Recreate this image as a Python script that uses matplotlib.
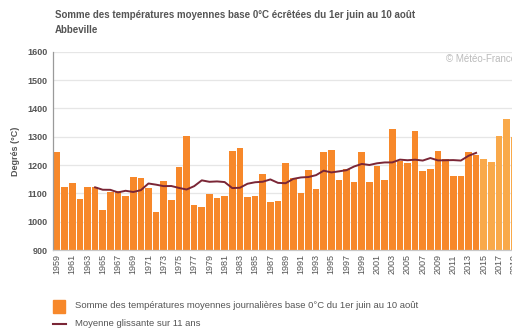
import matplotlib
matplotlib.use("Agg")
import matplotlib.pyplot as plt
import pandas as pd
from matplotlib.patches import Rectangle
from matplotlib.lines import Line2D

plt.rcParams['font.family'] = ['Liberation Sans', 'DejaVu Sans']

years = list(range(1959, 2020))
values = [
    1247, 1123, 1136, 1079, 1123, 1123, 1042, 1105, 1108, 1092,
    1156, 1153, 1120, 1035, 1143, 1076, 1193, 1302, 1059, 1051,
    1097, 1082, 1091, 1250, 1261, 1086, 1091, 1168, 1068, 1072,
    1207, 1155, 1101, 1182, 1116, 1247, 1254, 1147, 1185, 1141,
    1245, 1140, 1196, 1147, 1326, 1214, 1206, 1320, 1180, 1186,
    1249, 1221, 1162, 1162, 1245, 1234, 1220, 1212, 1302, 1364,
    1300,
]
first_recent_year = 2015
y_ticks = [900, 1000, 1100, 1200, 1300, 1400, 1500, 1600]
x_tick_years = list(range(1959, 2020, 2))

title = "Somme des températures moyennes base 0°C écrêtées du 1er juin au 10 août"
subtitle = "Abbeville"
bar_label = "Somme des températures moyennes journalières base 0°C du 1er juin au 10 août"
line_label = "Moyenne glissante sur 11 ans"

series = pd.Series(values, index=years)
rolling = series.rolling(11, center=True).mean()

c_bar = "#F7882A"
c_bar_recent = "#F9A94A"
c_line = "#7A2636"
c_text = "#555555"

W, H = 512, 331
fig = plt.figure(figsize=(W / 100, H / 100), dpi=100)
left_px, right_px = 53.2, 518.0
top_px, bottom_px = 51.7, 250.0
ax = fig.add_axes([left_px / W, 1 - bottom_px / H,
                   (right_px - left_px) / W, (bottom_px - top_px) / H])

colors = [c_bar_recent if y >= first_recent_year else c_bar for y in years]
ax.bar(years, [v - 900 for v in values], bottom=900, width=0.87,
       color=colors, edgecolor="none", zorder=2)
ax.plot(rolling.index, rolling.values, color=c_line, lw=1.4, zorder=3)

ax.set_xlim(1958.5, 2019.5)
ax.set_ylim(900, 1600)
ax.set_yticks(y_ticks)
ax.set_yticklabels([str(t) for t in y_ticks], fontsize=6.5,
                   fontweight="bold", color=c_text)
ax.set_xticks(x_tick_years)
ax.set_xticklabels([str(y) for y in x_tick_years], rotation=90,
                   fontsize=6.5, color=c_text)
ax.tick_params(axis="both", length=0, pad=4)
ax.tick_params(axis="x", pad=3)
ax.grid(axis="y", color="#E6E6E6", lw=0.9, zorder=0)
ax.set_axisbelow(True)
for s in ["top", "right"]:
    ax.spines[s].set_visible(False)
ax.spines["left"].set_color("#9A9A9A")
ax.spines["bottom"].set_color("#C8C8C8")
ax.spines["left"].set_linewidth(0.9)
ax.spines["bottom"].set_linewidth(0.9)

ax.set_ylabel("Degrés (°C)", fontsize=6.5, fontweight="bold", color=c_text)
ax.yaxis.set_label_coords(-(left_px - 20) / (right_px - left_px), 0.5)

fig.text(55 / W, 1 - 15 / H, title, fontsize=7, fontweight="bold",
         color=c_text, va="center", ha="left")
fig.text(55 / W, 1 - 30 / H, subtitle, fontsize=7, fontweight="bold",
         color=c_text, va="center", ha="left")
fig.text(446 / W, 1 - 59 / H, "© Météo-France", fontsize=7,
         color="#BBBBBB", va="center", ha="left")

# legend
fig.patches.append(Rectangle((53 / W, 1 - 313 / H), 12 / W, 13 / H,
                             transform=fig.transFigure, color=c_bar))
fig.text(75 / W, 1 - 306 / H, bar_label, fontsize=6.8, color=c_text,
         va="center", ha="left")
fig.lines.append(Line2D([53 / W, 66 / W], [1 - 324 / H, 1 - 324 / H],
                        transform=fig.transFigure, color=c_line, lw=1.5))
fig.text(75 / W, 1 - 324 / H, line_label, fontsize=6.8, color=c_text,
         va="center", ha="left")

fig.savefig("out.png", dpi=100)
